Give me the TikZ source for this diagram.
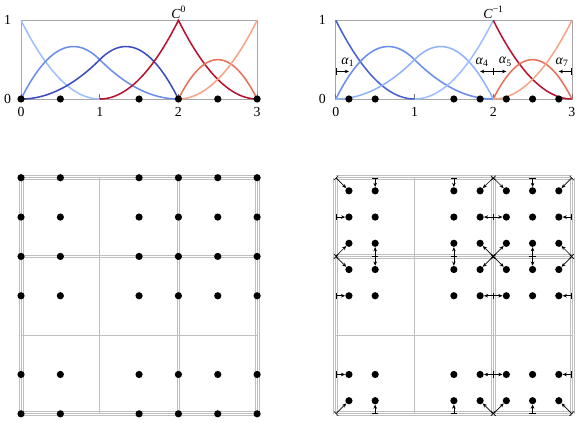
\documentclass[tikz,border=0pt]{standalone}
\usepackage{fontspec}
\setmainfont{Liberation Serif}
\usetikzlibrary{arrows.meta}
\definecolor{cA}{HTML}{3B4CC0}
\definecolor{cAb}{HTML}{4660D2}
\definecolor{cB}{HTML}{6A8CEC}
\definecolor{cC}{HTML}{8FB2FC}
\definecolor{cCl}{HTML}{9EBEFF}
\definecolor{cD}{HTML}{B8102E}
\definecolor{cE}{HTML}{E6705A}
\definecolor{cF}{HTML}{F7A486}
\newcommand{\supr}[1]{\raisebox{0.9ex}{\scriptsize #1}}
\newcommand{\subr}[1]{\raisebox{-0.4ex}{\scriptsize #1}}
\begin{document}
\begin{tikzpicture}[x=2cm,y=2cm,
  frame/.style={black!35,line width=0.5pt},
  tickmark/.style={black!55,line width=0.5pt},
  curve/.style={line width=1.1pt},
  dot/.style={circle,fill=black,inner sep=0pt,minimum size=5.2pt},
  gridline/.style={black!25,line width=0.5pt},
  shiftarrow/.style={black,line width=0.45pt,arrows={Bar[width=4.5pt]-Stealth[length=3pt,width=2.6pt]}},
  lab/.style={inner sep=1pt}]
\useasboundingbox (-0.267,-4.104) rectangle (7.128,1.258);

% ---------- top left plot ----------
\begin{scope}
\draw[frame] (0,0) rectangle (3,1);
\foreach \t in {0,1,2,3} \draw[tickmark] (\t,0) -- (\t,0.07);
\draw[curve,cCl] plot[domain=0:1,samples=40] (\x,{(1-\x)^2});
\draw[curve,cB] plot[domain=0:1,samples=40] (\x,{2*\x-1.5*\x*\x}) -- plot[domain=1:2,samples=40] (\x,{(2-\x)^2/2});
\draw[curve,cA] plot[domain=0:1,samples=40] (\x,{\x*\x/2}) -- plot[domain=1:2,samples=40] (\x,{2*(2-\x)-1.5*(2-\x)^2});
\draw[curve,cD] plot[domain=1:2,samples=40] (\x,{(\x-1)^2}) -- plot[domain=2:3,samples=40] (\x,{(3-\x)^2});
\draw[curve,cE] plot[domain=2:3,samples=40] (\x,{2*(\x-2)*(3-\x)});
\draw[curve,cF] plot[domain=2:3,samples=40] (\x,{(\x-2)^2});
\foreach \g [count=\i] in {0,0.5,1.5,2,2.5,3} \node[dot] (tl\i) at (\g,0) {};
\foreach \t in {0,1,2,3} \node[lab] (tlx\t) at (\t,-0.165) {\t};
\node[lab] (tly0) at (-0.17,0) {0};
\node[lab] (tly1) at (-0.17,1) {1};
\node[lab] (tlc) at (2,1.105) {\textit{C}\supr{0}};
\end{scope}

% ---------- top right plot ----------
\begin{scope}[shift={(4,0)}]
\draw[frame] (0,0) rectangle (3,1);
\foreach \t in {0,1,2,3} \draw[tickmark] (\t,0) -- (\t,0.07);
\draw[curve,cAb] plot[domain=0:1,samples=40] (\x,{(1-\x)^2});
\draw[curve,cB] plot[domain=0:1,samples=40] (\x,{2*\x-1.5*\x*\x}) -- plot[domain=1:2,samples=40] (\x,{(2-\x)^2/2});
\draw[curve,cC] plot[domain=0:1,samples=40] (\x,{\x*\x/2}) -- plot[domain=1:2,samples=40] (\x,{2*(2-\x)-1.5*(2-\x)^2});
\draw[curve,cCl] plot[domain=1:2,samples=40] (\x,{(\x-1)^2});
\draw[curve,cD] plot[domain=2:3,samples=40] (\x,{(3-\x)^2});
\draw[curve,cE] plot[domain=2:3,samples=40] (\x,{2*(\x-2)*(3-\x)});
\draw[curve,cF] plot[domain=2:3,samples=40] (\x,{(\x-2)^2});
\foreach \g [count=\i] in {0.16667,0.5,1.5,1.83333,2.16667,2.5,2.83333} \node[dot] (tr\i) at (\g,0) {};
\coordinate (a1s) at (0,0.35);       \coordinate (a1e) at (0.16667,0.35);
\coordinate (a4s) at (2,0.35);       \coordinate (a4e) at (1.83333,0.35);
\coordinate (a5s) at (2,0.35);       \coordinate (a5e) at (2.16667,0.35);
\coordinate (a7s) at (3,0.35);       \coordinate (a7e) at (2.83333,0.35);
\draw[shiftarrow] (a1s) -- (a1e);
\draw[shiftarrow] (a4s) -- (a4e);
\draw[shiftarrow] (a5s) -- (a5e);
\draw[shiftarrow] (a7s) -- (a7e);
\node[lab] (al1) at (0.15,0.47) {\textit{α}\subr{1}};
\node[lab] (al4) at (1.855,0.47) {\textit{α}\subr{4}};
\node[lab] (al5) at (2.15,0.47) {\textit{α}\subr{5}};
\node[lab] (al7) at (2.87,0.47) {\textit{α}\subr{7}};
\foreach \t in {0,1,2,3} \node[lab] (trx\t) at (\t,-0.165) {\t};
\node[lab] (try0) at (-0.17,0) {0};
\node[lab] (try1) at (-0.17,1) {1};
\node[lab] (trc) at (2,1.105) {\textit{C}\supr{−1}};
\end{scope}

% ---------- bottom left grid ----------
\begin{scope}[shift={(0,-4)}]
\foreach \k/\m in {0/3,1/1,2/2,3/3}{
  \foreach \i in {1,...,\m}{
    \pgfmathsetmacro\o{(\i-(\m+1)/2)*1.45}
    \draw[gridline] ([xshift=\o pt]\k,0) -- ([xshift=\o pt]\k,3);
    \draw[gridline] ([yshift=\o pt]0,\k) -- ([yshift=\o pt]3,\k);
  }
}
\foreach \gx [count=\i] in {0,0.5,1.5,2,2.5,3}
  \foreach \gy [count=\j] in {0,0.5,1.5,2,2.5,3}
    \node[dot] (bl\i-\j) at (\gx,\gy) {};
\end{scope}

% ---------- bottom right grid ----------
\begin{scope}[shift={(4,-4)}]
\foreach \k/\m in {0/3,1/1,2/3,3/3}{
  \foreach \i in {1,...,\m}{
    \pgfmathsetmacro\o{(\i-(\m+1)/2)*1.45}
    \draw[gridline] ([xshift=\o pt]\k,0) -- ([xshift=\o pt]\k,3);
    \draw[gridline] ([yshift=\o pt]0,\k) -- ([yshift=\o pt]3,\k);
  }
}
\foreach \gx/\ox/\sx [count=\i] in {0.16667/0/1,0.5/0.5/0,1.5/1.5/0,1.83333/2/1,2.16667/2/1,2.5/2.5/0,2.83333/3/1}{
  \foreach \gy/\oy/\sy [count=\j] in {0.16667/0/1,0.5/0.5/0,1.5/1.5/0,1.83333/2/1,2.16667/2/1,2.5/2.5/0,2.83333/3/1}{
    \node[dot] (br\i-\j) at (\gx,\gy) {};
    \pgfmathtruncatemacro\s{\sx+\sy}
    \ifnum\s>0
      \coordinate (bo\i-\j) at (\ox,\oy);
      \draw[shiftarrow] (bo\i-\j) -- (br\i-\j);
    \fi
  }
}
\end{scope}
\end{tikzpicture}
\end{document}
